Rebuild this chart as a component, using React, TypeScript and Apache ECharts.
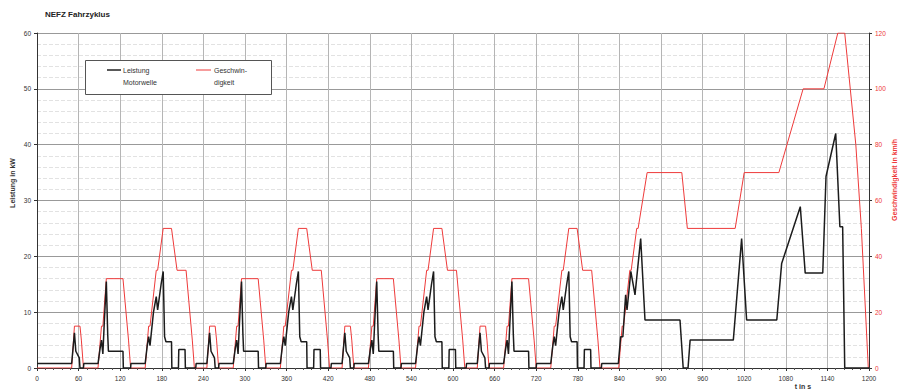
import React, { useEffect, useRef } from "react";
import * as echarts from "echarts";

// ECE-15 urban cycle, local time in s (cycle repeated at cycleStarts)
const eceSpeed: [number, number][] = [
  [0, 0], [11, 0], [15, 15], [23, 15], [25, 10], [28, 0], [49, 0], [54, 15], [56, 15], [61, 32],
  [85, 32], [93, 10], [96, 0], [117, 0], [122, 15], [124, 15], [133, 35], [135, 35], [143, 50],
  [155, 50], [163, 35], [176, 35], [185, 10], [188, 0], [195, 0],
];
const ecePower: [number, number][] = [
  [0, 0.8], [11, 0.8], [15, 6.3], [17, 3], [22, 1.8], [23, 0], [28, 0], [28.5, 0.8],
  [49, 0.8], [52, 3.5], [54, 5], [56, 2.5], [58, 8], [61, 15.5], [63, 6], [64, 3], [85, 3], [85.5, 0],
  [96, 0], [96.5, 0.8], [117, 0.8], [120, 4], [122, 5.6], [124, 4], [129, 10], [133, 12.8], [135, 10.4],
  [140, 15], [143, 17.3], [145, 5.6], [147, 4.7], [155, 4.7], [155.5, 0], [165, 0], [165.5, 3.3],
  [174.5, 3.3], [175, 0], [190, 0], [190.5, 0.8], [195, 0.8],
];
const cycleStarts = [39, 234, 429, 624];
const idleStart: [number, number][] = [[0, 0]];
const idleStartPower: [number, number][] = [[0, 0.8]];

// EUDC extra-urban part, chart time in s
const eudcSpeed: [number, number][] = [
  [839, 0], [844, 15], [846, 15], [855, 35], [857, 35], [865, 50], [867, 50], [880, 70], [930, 70],
  [938, 50], [1007, 50], [1020, 70], [1070, 70], [1105, 100], [1135, 100], [1155, 120], [1165, 120],
  [1181, 80], [1189, 50], [1199, 0], [1200, 0],
];
const eudcPower: [number, number][] = [
  [838.5, 0.8], [841.8, 5.6], [845, 5.6], [849, 13.1], [851, 10.4], [856.5, 17.3], [862.5, 13.1],
  [870.7, 23.2], [876.9, 8.6], [927.4, 8.6], [932, 0], [939, 0], [942, 5], [1004.3, 5], [1016.3, 23.2],
  [1023.5, 8.6], [1067, 8.6], [1074, 18.7], [1100.9, 28.9], [1108, 17], [1133.3, 17], [1138, 34.3],
  [1152, 42], [1158, 25.3], [1162, 25.3], [1165, 0], [1200, 0],
];

const seriesNames = ["Leistung Motorwelle", "Geschwindigkeit"];
const legendLabels = ["Leistung\nMotorwelle", "Geschwin-\ndigkeit"];
const titleText = "NEFZ Fahrzyklus";
const leftAxisTitle = "Leistung in kW";
const rightAxisTitle = "Geschwindigkeit in km/h";
const xAxisTitle = "t in s";

function assemble(pre: [number, number][], cycle: [number, number][], post: [number, number][]) {
  const out: [number, number][] = [...pre];
  cycleStarts.forEach((s) => cycle.forEach(([t, v]) => out.push([t + s, v])));
  return out.concat(post);
}

const FONT = "Liberation Sans, Arial, sans-serif";
const RED = "#ee3a3a";

export default function App() {
  const ref = useRef<HTMLDivElement>(null);
  useEffect(() => {
    if (!ref.current) return;
    const chart = echarts.init(ref.current, undefined, { renderer: "svg" });
    const speedData = assemble(idleStart, eceSpeed, eudcSpeed);
    const powerData = assemble(idleStartPower, ecePower, eudcPower);
    chart.setOption({
      animation: false,
      backgroundColor: "#fff",
      textStyle: { fontFamily: FONT },
      title: {
        text: titleText,
        left: 40,
        top: 5,
        textStyle: { fontSize: 8, fontWeight: "bold", color: "#222", fontFamily: FONT },
      },
      grid: { left: 37, right: 30, top: 33, bottom: 21, containLabel: false },
      xAxis: {
        type: "value",
        min: 0,
        max: 1200,
        interval: 60,
        axisLine: { show: true, lineStyle: { color: "#333", width: 1 } },
        axisTick: { show: true, length: 3, lineStyle: { color: "#333" } },
        minorTick: { show: true, splitNumber: 5, length: 2, lineStyle: { color: "#555" } },
        axisLabel: { fontSize: 6.5, color: "#333", margin: 7, formatter: (v: number) => String(v) },
        splitLine: { show: true, lineStyle: { color: "#b5b5b5", width: 1 } },
        minorSplitLine: { show: false },
      },
      yAxis: [
        {
          type: "value",
          min: 0,
          max: 60,
          interval: 10,
          position: "left",
          axisLine: { show: true, lineStyle: { color: "#333" } },
          axisTick: { show: true, length: 3, lineStyle: { color: "#333" } },
          axisLabel: { fontSize: 6.5, color: "#333", margin: 6 },
          splitLine: { show: true, lineStyle: { color: "#999", width: 1 } },
          minorTick: { show: false, splitNumber: 5 },
          minorSplitLine: { show: true, lineStyle: { color: "#e2e2e2", width: 1, type: "dashed" } },
        },
        {
          type: "value",
          min: 0,
          max: 120,
          interval: 20,
          position: "right",
          axisLine: { show: true, lineStyle: { color: "#333" } },
          axisTick: { show: true, length: 3, lineStyle: { color: "#333" } },
          axisLabel: { fontSize: 6.5, color: RED, margin: 6 },
          splitLine: { show: false },
        },
      ],
      graphic: [
        {
          type: "text",
          x: 12,
          y: 183,
          rotation: Math.PI / 2,
          style: { text: leftAxisTitle, fontSize: 7, fontWeight: "bold", fill: "#333", align: "center", verticalAlign: "middle", fontFamily: FONT },
        },
        {
          type: "text",
          x: 894,
          y: 180,
          rotation: Math.PI / 2,
          style: { text: rightAxisTitle, fontSize: 7, fontWeight: "bold", fill: RED, align: "center", verticalAlign: "middle", fontFamily: FONT },
        },
        {
          type: "text",
          x: 803,
          y: 386,
          style: { text: xAxisTitle, fontSize: 7, fontWeight: "bold", fill: "#333", align: "center", verticalAlign: "middle", fontFamily: FONT },
        },
        {
          type: "rect",
          shape: { x: 85.5, y: 60.5, width: 186, height: 34 },
          style: { fill: "#fff", stroke: "#555", lineWidth: 1 },
          z: 10,
        },
        {
          type: "line",
          shape: { x1: 107, y1: 70, x2: 121, y2: 70 },
          style: { stroke: "#222", lineWidth: 1.5 },
          z: 11,
        },
        {
          type: "text",
          x: 123,
          y: 76,
          style: { text: legendLabels[0], fontSize: 7, lineHeight: 12, fill: "#333", verticalAlign: "middle", fontFamily: FONT },
          z: 11,
        },
        {
          type: "line",
          shape: { x1: 196, y1: 70, x2: 211, y2: 70 },
          style: { stroke: RED, lineWidth: 1 },
          z: 11,
        },
        {
          type: "text",
          x: 214,
          y: 76,
          style: { text: legendLabels[1], fontSize: 7, lineHeight: 12, fill: "#333", verticalAlign: "middle", fontFamily: FONT },
          z: 11,
        },
      ],
      series: [
        {
          name: seriesNames[0],
          type: "line",
          yAxisIndex: 0,
          data: powerData,
          showSymbol: false,
          symbol: "none",
          lineStyle: { color: "#1c1c1c", width: 1.5 },
          itemStyle: { color: "#1c1c1c" },
          z: 3,
        },
        {
          name: seriesNames[1],
          type: "line",
          yAxisIndex: 1,
          data: speedData,
          showSymbol: false,
          symbol: "none",
          lineStyle: { color: RED, width: 1 },
          itemStyle: { color: RED },
          z: 2,
        },
      ],
    });
    return () => chart.dispose();
  }, []);
  return <div ref={ref} style={{ position: "fixed", left: 0, top: 0, width: 899, height: 389 }} />;
}
